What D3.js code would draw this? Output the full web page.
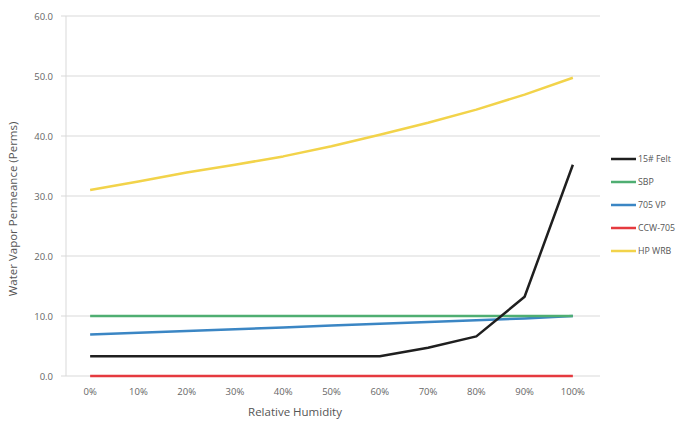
<!DOCTYPE html>
<html><head><meta charset="utf-8">
<script src="https://cdn.jsdelivr.net/npm/d3@7"></script>
<style>body{margin:0;background:#fff;} text{font-family:"Open Sans","DejaVu Sans",sans-serif;}</style>
</head><body><svg id="c" width="678" height="421"></svg>
<script>
const categories = ["0%","10%","20%","30%","40%","50%","60%","70%","80%","90%","100%"];
const seriesNames = ["15# Felt","SBP","705 VP","CCW-705","HP WRB"];
const felt15 = [3.3,3.3,3.3,3.3,3.3,3.3,3.3,4.7,6.6,13.2,35.2];
const sbp    = [10.0,10.0,10.0,10.0,10.0,10.0,10.0,10.0,10.0,10.0,10.0];
const vp705  = [6.9,7.2,7.5,7.8,8.1,8.4,8.7,9.0,9.3,9.6,10.0];
const ccw705 = [0.0,0.0,0.0,0.0,0.0,0.0,0.0,0.0,0.0,0.0,0.0];
const hpwrb  = [31.0,32.4,33.9,35.2,36.6,38.3,40.2,42.2,44.4,46.9,49.7];
const yTicks = [0,10,20,30,40,50,60];
const colors = ["#1f1f1f","#4fae72","#3b86c4","#e53a3f","#f2d34a"];
const allSeries = [felt15,sbp,vp705,ccw705,hpwrb];

const svg = d3.select("#c");
const L=66, R=597, T=16, B=376;
const x = d3.scaleBand().domain(categories).range([L,R]);
const y = d3.scaleLinear().domain([0,60]).range([B,T]);

// gridlines
svg.append("g").selectAll("line").data(yTicks).join("line")
  .attr("x1",L-5).attr("x2",R+3).attr("y1",d=>y(d)).attr("y2",d=>y(d))
  .attr("stroke","#d9d9d9").attr("stroke-width",1);
svg.append("line").attr("x1",L).attr("x2",L).attr("y1",T).attr("y2",B)
  .attr("stroke","#d9d9d9");

// y tick labels
svg.append("g").selectAll("text").data(yTicks).join("text")
  .attr("x",L-13).attr("y",d=>y(d)+3.5).attr("text-anchor","end")
  .attr("font-size",9.5).attr("fill","#666").text(d=>d.toFixed(1));
// x tick labels
svg.append("g").selectAll("text").data(categories).join("text")
  .attr("x",d=>x(d)+x.bandwidth()/2).attr("y",B+19).attr("text-anchor","middle")
  .attr("font-size",9.5).attr("fill","#666").text(d=>d);

// axis titles
svg.append("text").attr("transform",`translate(17,${(T+B)/2+13}) rotate(-90)`)
  .attr("text-anchor","middle").attr("font-size",11.5).attr("fill","#555")
  .text("Water Vapor Permeance (Perms)");
svg.append("text").attr("x",295).attr("y",416).attr("text-anchor","middle")
  .attr("font-size",11.5).attr("fill","#555").text("Relative Humidity");

// lines
const line = d3.line().x((d,i)=>x(categories[i])+x.bandwidth()/2).y(d=>y(d));
const order = [4,3,2,1,0];
order.forEach(k=>{
  svg.append("path").datum(allSeries[k]).attr("d",line)
    .attr("fill","none").attr("stroke",colors[k]).attr("stroke-width",2.5)
    .attr("stroke-linejoin","round");
});

// legend
const lg = svg.append("g").selectAll("g").data(seriesNames).join("g")
  .attr("transform",(d,i)=>`translate(611,${159+i*23})`);
lg.append("line").attr("x1",0).attr("x2",25).attr("y1",0).attr("y2",0)
  .attr("stroke",(d,i)=>colors[i]).attr("stroke-width",2.5);
lg.append("text").attr("x",27).attr("y",3.2).attr("font-size",8.8).attr("fill","#555").text(d=>d);
</script></body></html>
